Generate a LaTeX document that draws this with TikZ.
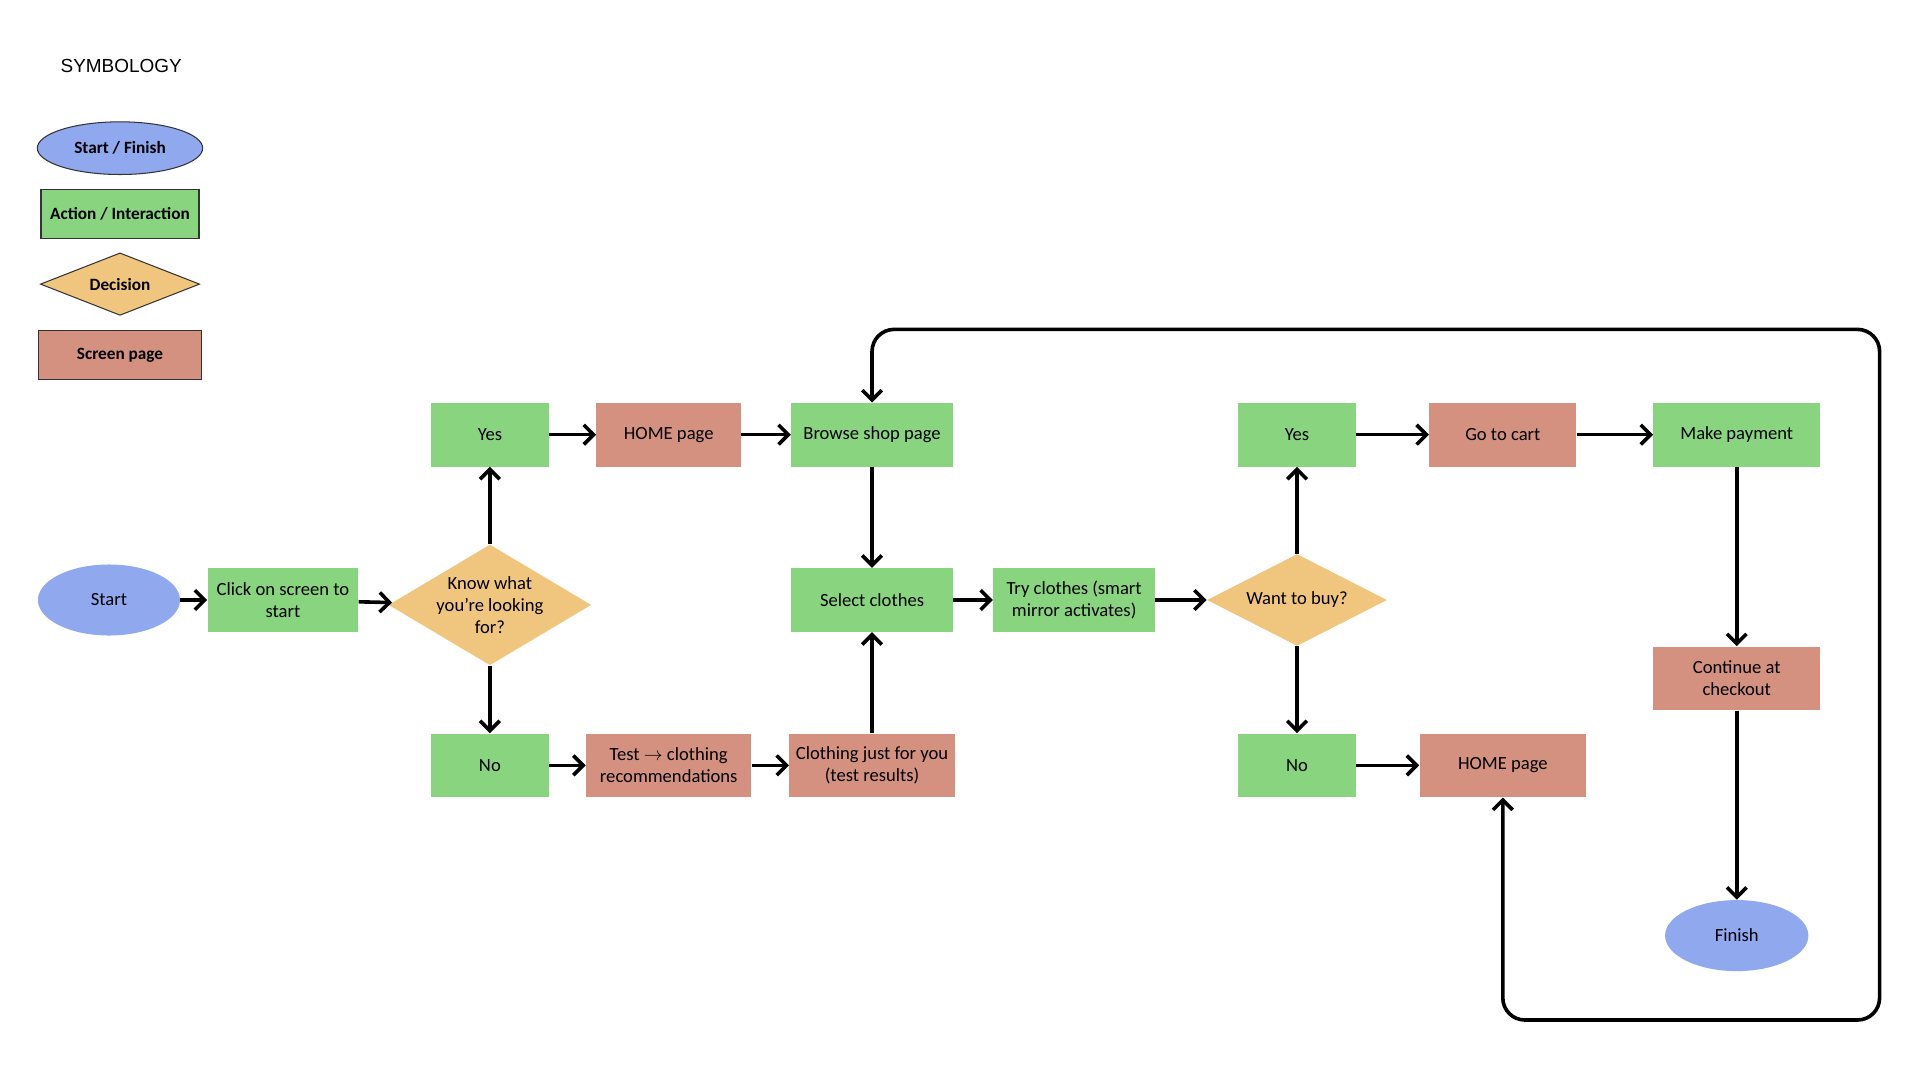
\documentclass[tikz,border=0pt]{standalone}
\usepackage{fontspec}
\setmainfont{Carlito}
\newfontfamily\headfont{Liberation Sans}
\usepackage{tikz}
\usetikzlibrary{shapes,arrows.meta,positioning}

\definecolor{startblue}{HTML}{8FA8EE}
\definecolor{actiongreen}{HTML}{88D47F}
\definecolor{decisionorange}{HTML}{F0C67F}
\definecolor{screenred}{HTML}{D4917F}

\begin{document}
\begin{tikzpicture}[x=0.025cm, y=-0.025cm, font=\fontsize{10.8}{12.8}\selectfont]
    % Define styles
    \tikzstyle{terminal} = [ellipse, fill=startblue, minimum width=2.9cm, minimum height=1.45cm, inner sep=0pt]
    \tikzstyle{action} = [rectangle, fill=actiongreen, minimum width=2.4cm, minimum height=1.3cm, align=center, inner sep=1pt]
    \tikzstyle{decision} = [diamond, fill=decisionorange, align=center, inner sep=0pt]
    \tikzstyle{screenpage} = [rectangle, fill=screenred, minimum width=2.95cm, minimum height=1.3cm, align=center, inner sep=1pt]
    \tikzstyle{legend} = [draw=black!80, line width=0.6pt, font=\fontsize{10}{11}\selectfont\bfseries]
    \tikzstyle{arrow} = [line width=2.1pt, -{Straight Barb[length=2mm, width=4mm]}]
    \tikzstyle{twoway} = [line width=2.1pt, rounded corners=0.45cm, {Straight Barb[length=2mm, width=4mm]}-{Straight Barb[length=2mm, width=4mm]}]

    \useasboundingbox (0,0) rectangle (1568,882);

    % Symbology
    \node [font=\headfont\fontsize{11}{13}\selectfont] (symtitle) at (99,54) {SYMBOLOGY};
    \node [terminal, legend, minimum width=3.375cm, minimum height=1.075cm] (legstart) at (98,121) {Start / Finish};
    \node [action, legend, below of=legstart, node distance=1.35cm, minimum width=3.225cm, minimum height=1cm] (legaction) {Action / Interaction};
    \node [decision, legend, below of=legaction, node distance=1.425cm, minimum width=3.25cm, minimum height=1.275cm, shape aspect=2.55] (legdecision) {Decision};
    \node [screenpage, legend, below of=legdecision, node distance=1.45cm, minimum width=3.325cm, minimum height=1cm] (legscreen) {Screen page};

    % Main flow
    \node [terminal] (start) at (89,490) {Start};
    \node [action, right of=start, node distance=3.55cm, minimum width=3.075cm] (click) {Click on screen to\\start};
    \node [decision, right of=click, node distance=4.225cm, yshift=-0.1cm, minimum width=4.075cm, minimum height=2.425cm, shape aspect=1.68] (knowwhat) {Know what\\you’re looking\\for?};
    \node [action, above of=knowwhat, node distance=3.475cm] (yesA) {Yes};
    \node [action, below of=knowwhat, node distance=3.275cm] (noA) {No};
    \node [screenpage, right of=yesA, node distance=3.65cm] (homeA) {HOME page};
    \node [action, right of=homeA, node distance=4.15cm, minimum width=3.3cm] (browse) {Browse shop page};
    \node [screenpage, right of=noA, node distance=3.65cm, minimum width=3.375cm] (test) {Test $\rightarrow$ clothing\\recommendations};
    \node [screenpage, right of=test, node distance=4.15cm, minimum width=3.375cm] (foryou) {Clothing just for you\\(test results)};
    \node [action, below of=browse, node distance=3.375cm, minimum width=3.3cm] (select) {Select clothes};
    \node [action, right of=select, node distance=4.125cm, minimum width=3.3cm] (try) {Try clothes (smart\\mirror activates)};
    \node [decision, right of=try, node distance=4.55cm, minimum width=3.675cm, minimum height=1.875cm, shape aspect=1.96] (buy) {Want to buy?};
    \node [action, above of=buy, node distance=3.375cm] (yesB) {Yes};
    \node [action, below of=buy, node distance=3.375cm] (noB) {No};
    \node [screenpage, right of=yesB, node distance=4.2cm, minimum width=3cm] (cart) {Go to cart};
    \node [screenpage, right of=noB, node distance=4.2cm, minimum width=3.4cm] (homeB) {HOME page};
    \node [action, right of=cart, node distance=4.775cm, minimum width=3.4cm] (payment) {Make payment};
    \node [screenpage, below of=payment, node distance=4.975cm, minimum width=3.4cm] (checkout) {Continue at\\checkout};
    \node [terminal, below of=checkout, node distance=5.25cm, minimum width=2.925cm] (finish) {Finish};

    % Arrows
    \draw [arrow] (start) -- (click);
    \draw [arrow] (click) -- (knowwhat);
    \draw [arrow] (knowwhat) -- (yesA);
    \draw [arrow] (knowwhat) -- (noA);
    \draw [arrow] (yesA) -- (homeA);
    \draw [arrow] (homeA) -- (browse);
    \draw [arrow] (browse) -- (select);
    \draw [arrow] (noA) -- (test);
    \draw [arrow] (test) -- (foryou);
    \draw [arrow] (foryou) -- (select);
    \draw [arrow] (select) -- (try);
    \draw [arrow] (try) -- (buy);
    \draw [arrow] (buy) -- (yesB);
    \draw [arrow] (buy) -- (noB);
    \draw [arrow] (yesB) -- (cart);
    \draw [arrow] (cart) -- (payment);
    \draw [arrow] (noB) -- (homeB);
    \draw [arrow] (payment) -- (checkout);
    \draw [arrow] (checkout) -- (finish);

    % Loop back
    \coordinate (loopNE) at (1535,269);
    \coordinate (loopSE) at (1535,833);
    \draw [twoway] (browse.north) |- (loopNE) -- (loopSE) -| (homeB.south);
\end{tikzpicture}
\end{document}
